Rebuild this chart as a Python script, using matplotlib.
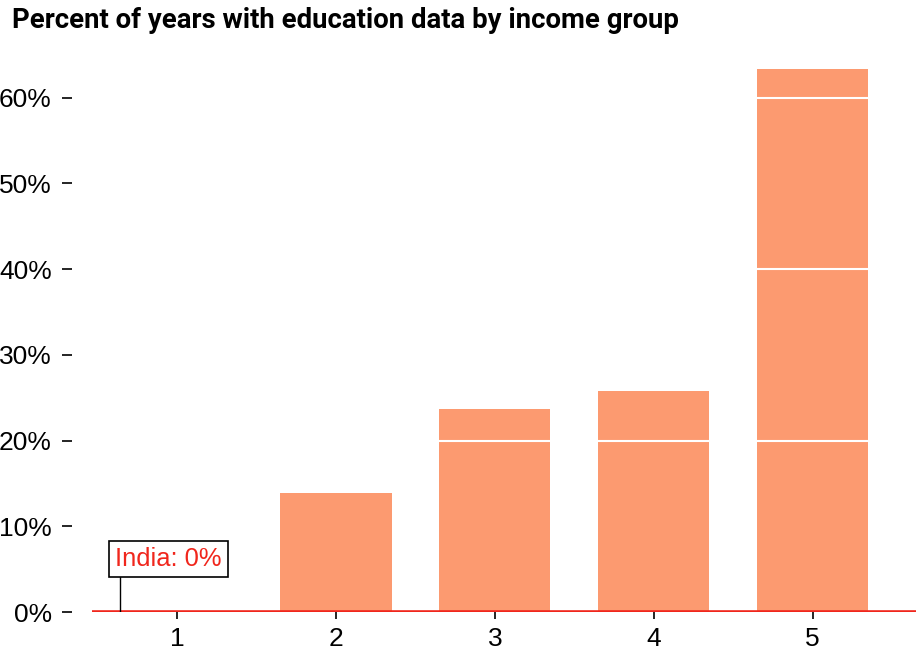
import numpy as np
import matplotlib
matplotlib.use("Agg")
import matplotlib.pyplot as plt

# income groups and share of years with education data (%)
groups = [1, 2, 3, 4, 5]
pct = [0.0, 13.9, 23.7, 25.8, 63.3]
yticks = [0, 10, 20, 30, 40, 50, 60]
grid_lines = [20, 40, 60]
india_group = 0.64
india_label = "India: 0%"

bar_color = "#fc9a70"
red = "#f0261c"

fig = plt.figure(figsize=(9.16, 6.61), dpi=100)
ax = fig.add_axes([0.1004, 0.074, 0.8996, 0.843])

ax.bar(groups, pct, width=0.7, color=bar_color, zorder=1)
# white grid lines only show across the bars
for g in grid_lines:
    ax.axhline(g, color="white", lw=1.5, zorder=2)
ax.axhline(0, color=red, lw=2.6, zorder=3)

ax.set_xlim(0.465, 5.65)
ax.set_ylim(0, 65)

for s in ax.spines.values():
    s.set_visible(False)
ax.spines["left"].set_position(("outward", 14.4))

ax.set_yticks(yticks)
ax.set_yticklabels([f"{v}%" for v in yticks])
ax.set_xticks(groups)
ax.set_xticklabels([str(g) for g in groups])
ax.tick_params(axis="y", length=7.5, width=1.2, pad=7, labelsize=19)
ax.tick_params(axis="x", length=5, width=1.2, pad=6, labelsize=19)
for lab in ax.get_xticklabels() + ax.get_yticklabels():
    lab.set_fontfamily("Liberation Sans")

# India marker
ax.plot([india_group, india_group], [0, 4.1], color="black", lw=1, zorder=4)
ax.text(india_group - 0.03, 6.2, india_label, color=red, fontsize=18.4,
        family="Liberation Sans", va="center", ha="left", zorder=5,
        bbox=dict(boxstyle="square,pad=0.25", fc="white", ec="black", lw=1.2))

fig.text(0.013, 0.99, "Percent of years with education data by income group",
         fontsize=19.8, fontweight="bold", family="Roboto", va="top", ha="left")

fig.savefig("out.png", dpi=100)
